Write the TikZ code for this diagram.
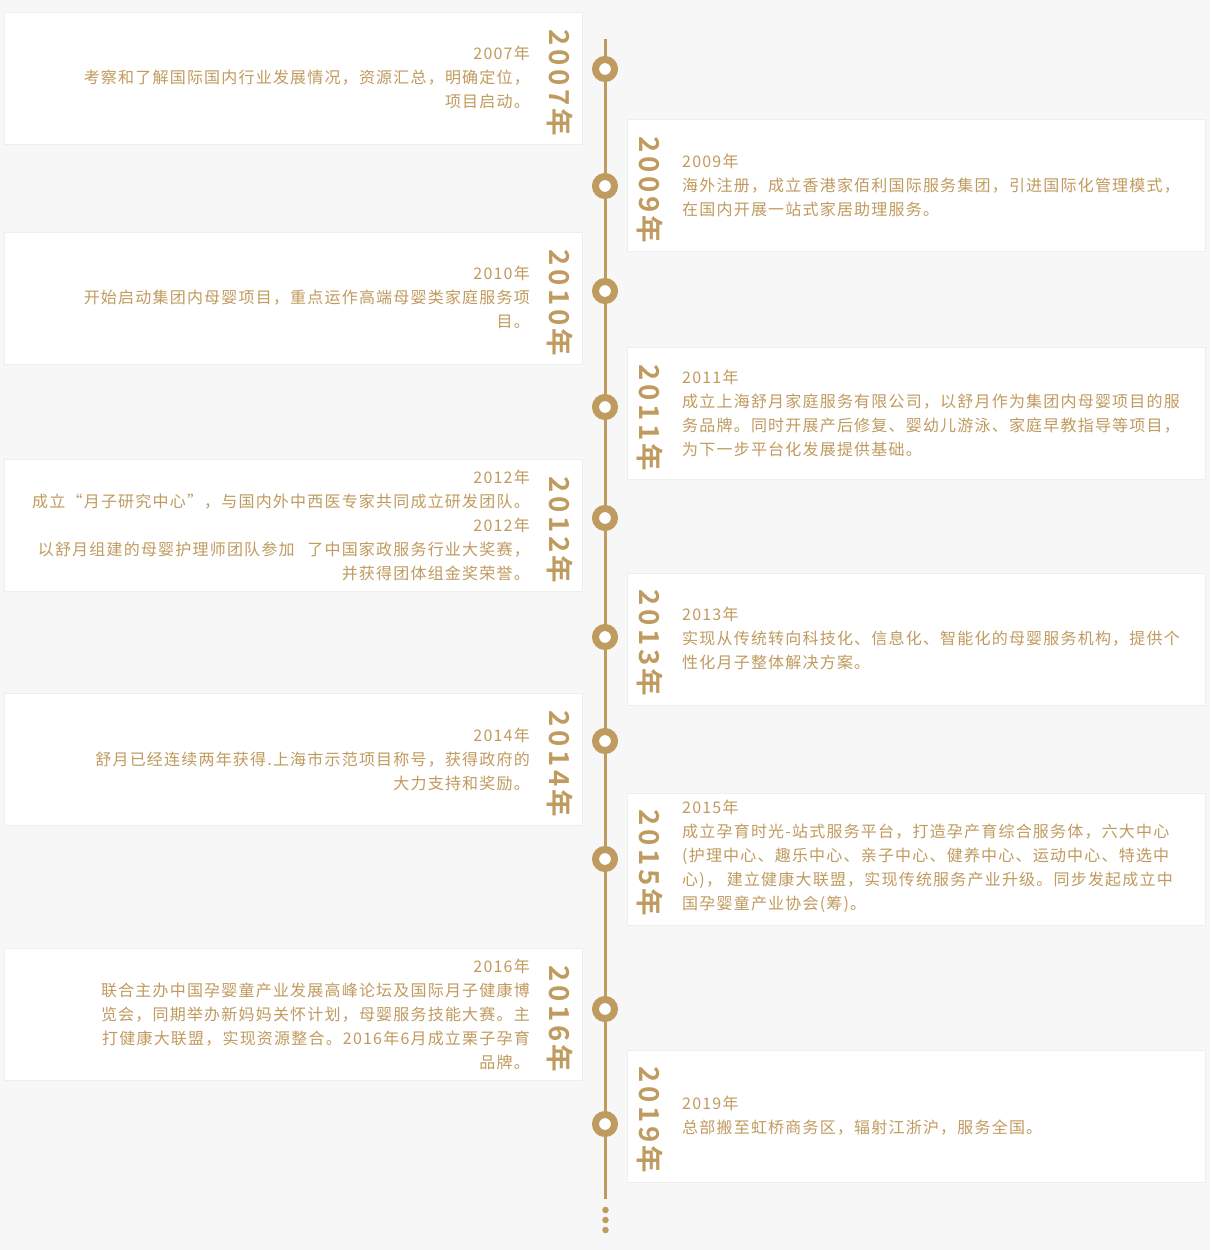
\documentclass[tikz,border=0pt]{standalone}
\usepackage{fontspec}
\setmainfont{Noto Sans CJK SC}[LetterSpace=7.5]
\newfontfamily\yearfont{Noto Sans CJK SC Bold}[LetterSpace=13]
\definecolor{gold}{HTML}{C09B5F}
\definecolor{bgc}{HTML}{F7F7F7}
\definecolor{shadowc}{HTML}{EEEEEE}
\tikzset{
  card/.style={fill=white, draw=shadowc, line width=1pt, minimum width=578pt, minimum height=132pt, inner sep=0pt, anchor=north west},
  txtL/.style={align=right, anchor=east, inner sep=0pt, text=gold, font=\fontsize{16}{24}\selectfont},
  txtR/.style={align=left, anchor=west, inner sep=0pt, text=gold, font=\fontsize{16}{24}\selectfont},
  yearlab/.style={rotate=-90, inner sep=0pt, text=gold, font=\yearfont\fontsize{27.5}{27.5}\selectfont},
  ring/.style={circle, fill=white, draw=gold, line width=7pt, minimum size=19pt, inner sep=0pt},
  tinydot/.style={circle, fill=gold, minimum size=6.5pt, inner sep=0pt},
  axis/.style={draw=gold, line width=3pt}
}
\begin{document}
\begin{tikzpicture}[x=1pt,y=-1pt]
\useasboundingbox (0,0) rectangle (1210,1250);
\fill[bgc] (0,0) rectangle (1210,1250);

% cards
\node[card] (b2007) at (4,12) {};
\node[card] (b2009) at (627,119) {};
\node[card] (b2010) at (4,232) {};
\node[card] (b2011) at (627,347) {};
\node[card] (b2012) at (4,459) {};
\node[card] (b2013) at (627,573) {};
\node[card] (b2014) at (4,693) {};
\node[card] (b2015) at (627,793) {};
\node[card] (b2016) at (4,948) {};
\node[card] (b2019) at (627,1050) {};

% timeline
\coordinate (ltop) at (605,39);
\coordinate (lbot) at (605,1199);
\draw[axis] (ltop) -- (lbot);
\node[ring] (c1) at (605,69) {};
\node[ring] (c2) at (605,186) {};
\node[ring] (c3) at (605,291) {};
\node[ring] (c4) at (605,407) {};
\node[ring] (c5) at (605,518) {};
\node[ring] (c6) at (605,637) {};
\node[ring] (c7) at (605,741) {};
\node[ring] (c8) at (605,859) {};
\node[ring] (c9) at (605,1009) {};
\node[ring] (c10) at (605,1124) {};
\node[tinydot] (d1) at (605.5,1210) {};
\node[tinydot] (d2) at (605.5,1220) {};
\node[tinydot] (d3) at (605.5,1230) {};

% year labels
\node[yearlab] (y2007) at (560,83) {2007年};
\node[yearlab] (y2009) at (650,190) {2009年};
\node[yearlab] (y2010) at (560,303) {2010年};
\node[yearlab] (y2011) at (650,418) {2011年};
\node[yearlab] (y2012) at (560,530) {2012年};
\node[yearlab] (y2013) at (650,643) {2013年};
\node[yearlab] (y2014) at (560,764) {2014年};
\node[yearlab] (y2015) at (650,863) {2015年};
\node[yearlab] (y2016) at (560,1019) {2016年};
\node[yearlab] (y2019) at (650,1120) {2019年};

% texts
\node[txtL] (t2007) at (530,77) {2007年\\考察和了解国际国内行业发展情况，资源汇总，明确定位，\\项目启动。};
\node[txtR] (t2009) at (682,185) {2009年\\海外注册，成立香港家佰利国际服务集团，引进国际化管理模式，\\在国内开展一站式家居助理服务。};
\node[txtL] (t2010) at (530,297) {2010年\\开始启动集团内母婴项目，重点运作高端母婴类家庭服务项\\目。};
\node[txtR] (t2011) at (682,413) {2011年\\成立上海舒月家庭服务有限公司，以舒月作为集团内母婴项目的服\\务品牌。同时开展产后修复、婴幼儿游泳、家庭早教指导等项目，\\为下一步平台化发展提供基础。};
\node[txtL] (t2012) at (530,525) {2012年\\成立“月子研究中心”，与国内外中西医专家共同成立研发团队。\\2012年\\以舒月组建的母婴护理师团队参加\hspace{8pt} 了中国家政服务行业大奖赛，\\并获得团体组金奖荣誉。};
\node[txtR] (t2013) at (682,638) {2013年\\实现从传统转向科技化、信息化、智能化的母婴服务机构，提供个\\性化月子整体解决方案。};
\node[txtL] (t2014) at (530,759) {2014年\\舒月已经连续两年获得.上海市示范项目称号，获得政府的\\大力支持和奖励。};
\node[txtR] (t2015) at (682,856) {2015年\\成立孕育时光-站式服务平台，打造孕产育综合服务体，六大中心\\(护理中心、趣乐中心、亲子中心、健养中心、运动中心、特选中\\心)， 建立健康大联盟，实现传统服务产业升级。同步发起成立中\\国孕婴童产业协会(筹)。};
\node[txtL] (t2016) at (530,1014) {2016年\\联合主办中国孕婴童产业发展高峰论坛及国际月子健康博\\览会，同期举办新妈妈关怀计划，母婴服务技能大赛。主\\打健康大联盟，实现资源整合。2016年6月成立栗子孕育\\品牌。};
\node[txtR] (t2019) at (682,1116) {2019年\\总部搬至虹桥商务区，辐射江浙沪，服务全国。};
\end{tikzpicture}
\end{document}
